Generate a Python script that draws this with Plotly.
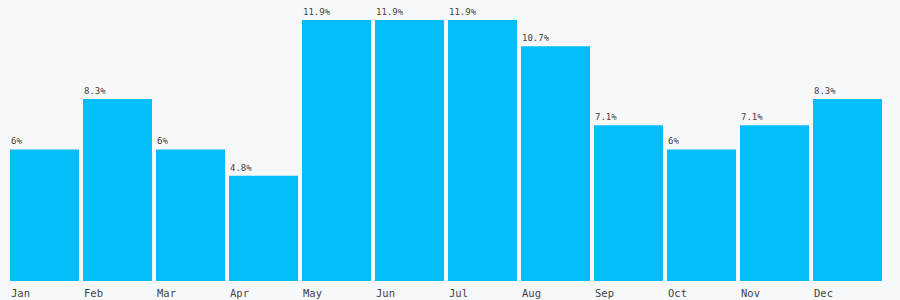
import plotly.graph_objects as go

months = ["Jan", "Feb", "Mar", "Apr", "May", "Jun", "Jul", "Aug", "Sep", "Oct", "Nov", "Dec"]
values = [6, 8.3, 6, 4.8, 11.9, 11.9, 11.9, 10.7, 7.1, 6, 7.1, 8.3]
labels = ["6%", "8.3%", "6%", "4.8%", "11.9%", "11.9%", "11.9%", "10.7%", "7.1%", "6%", "7.1%", "8.3%"]

bargap = 4 / 73
xs = list(range(len(months)))

fig = go.Figure(go.Bar(x=xs, y=values, marker=dict(color="#04BEFA", line=dict(width=0)),
                       hoverinfo="skip"))

annotations = []
for i, (v, lab, m) in enumerate(zip(values, labels, months)):
    left = i - 0.5 + bargap / 2
    annotations.append(dict(x=left, y=v, xref="x", yref="y", text=lab, showarrow=False,
                            xanchor="left", yanchor="bottom", xshift=0, yshift=2, borderpad=0,
                            font=dict(family="DejaVu Sans Mono", size=9, color="#444")))
    annotations.append(dict(x=left, y=0, xref="x", yref="y", text=m, showarrow=False,
                            xanchor="left", yanchor="top", xshift=0, yshift=-5, borderpad=0,
                            font=dict(family="DejaVu Sans Mono", size=10.5, color="#444")))

fig.update_layout(
    width=900, height=300,
    margin=dict(l=8, r=16, t=20, b=19),
    paper_bgcolor="#F7F8FA", plot_bgcolor="#F7F8FA",
    bargap=bargap, showlegend=False,
    xaxis=dict(range=[-0.5, 11.5], visible=False, fixedrange=True),
    yaxis=dict(range=[0, 11.9], visible=False, fixedrange=True),
    annotations=annotations,
)
fig.write_html("out.html")
